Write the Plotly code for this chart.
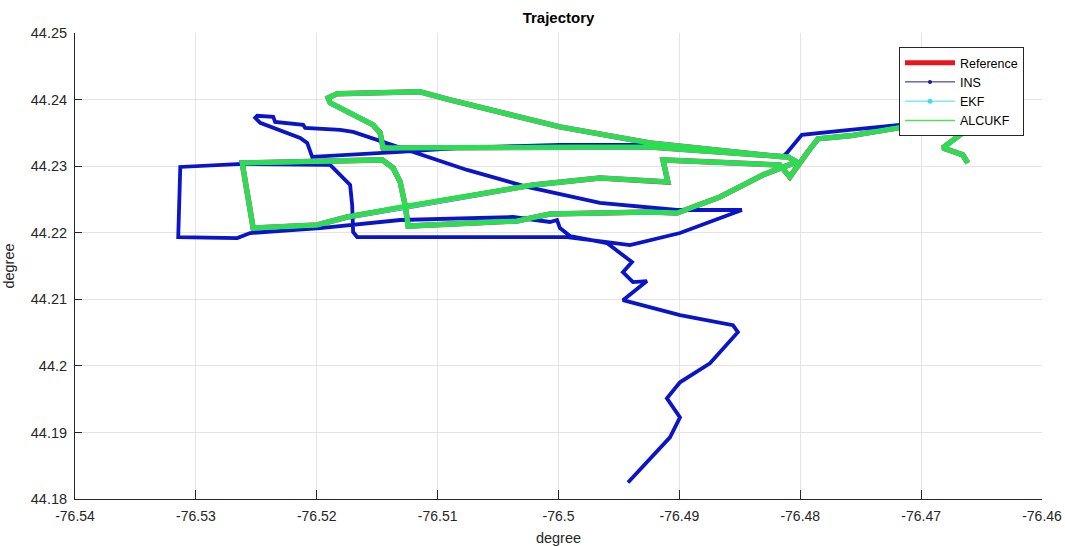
import plotly.graph_objects as go

# ---------------- data (degrees) ----------------
ref_lon = [-76.46614, -76.46656, -76.46821, -76.46623, -76.46664, -76.47185, -76.47590, -76.47854,
           -76.47937, -76.48003, -76.48086, -76.48169, -76.49136, -76.49095, -76.49657, -76.50211,
           -76.51310, -76.51749, -76.51997, -76.52526, -76.52617, -76.51459, -76.51368, -76.51310,
           -76.51269, -76.51244, -76.50343, -76.50070, -76.49243, -76.49020, -76.48665, -76.48309,
           -76.48028, -76.48102, -76.49243, -76.49988, -76.50897, -76.51451, -76.51476, -76.51534,
           -76.51889, -76.51906, -76.51831, -76.51145, -76.50897, -76.49988, -76.49243, -76.48144]
ref_lat = [44.23048, 44.23169, 44.23274, 44.23545, 44.23605, 44.23575, 44.23455, 44.23410,
           44.23214, 44.23048, 44.22838, 44.23018, 44.23094, 44.22763, 44.22823, 44.22717,
           44.22386, 44.22236, 44.22116, 44.22070, 44.23048, 44.23094, 44.22973, 44.22763,
           44.22416, 44.22100, 44.22176, 44.22281, 44.22311, 44.22296, 44.22537, 44.22868,
           44.23064, 44.23139, 44.23289, 44.23289, 44.23289, 44.23274, 44.23500, 44.23620,
           44.23951, 44.24026, 44.24087, 44.24117, 44.23996, 44.23590, 44.23349, 44.23139]

# EKF and ALCUKF estimates coincide with the reference at this scale
ekf_lon = list(ref_lon)
ekf_lat = list(ref_lat)
alcukf_lon = list(ref_lon)
alcukf_lat = list(ref_lat)

ins_lon = [-76.46722, -76.47176, -76.47590, -76.47987, -76.48111, -76.48144, -76.48830, -76.49243,
           -76.49988, -76.50814, -76.51310, -76.52038, -76.52079, -76.52137, -76.52468, -76.52509,
           -76.52493, -76.52360, -76.52344, -76.52112, -76.52096, -76.51806, -76.51699, -76.51310,
           -76.50756, -76.50260, -76.49657, -76.49020, -76.48483, -76.48995, -76.49409, -76.49599,
           -76.49930, -76.51310, -76.51666, -76.51699, -76.51707, -76.51724, -76.51806, -76.51889,
           -76.52617, -76.53129, -76.53146, -76.52658, -76.52551, -76.51972, -76.51310, -76.50376,
           -76.50070, -76.50012, -76.49988, -76.49905, -76.49599, -76.49392, -76.49467, -76.49384,
           -76.49268, -76.49434, -76.49467, -76.48995, -76.48557, -76.48516, -76.48747, -76.48995,
           -76.49103, -76.48995, -76.49078, -76.49425]
ins_lat = [44.23590, 44.23620, 44.23545, 44.23470, 44.23199, 44.23139, 44.23244, 44.23319,
           44.23319, 44.23274, 44.23214, 44.23139, 44.23349, 44.23425, 44.23650, 44.23726,
           44.23756, 44.23741, 44.23665, 44.23620, 44.23575, 44.23545, 44.23515, 44.23274,
           44.22943, 44.22688, 44.22447, 44.22341, 44.22341, 44.21995, 44.21815, 44.21860,
           44.21935, 44.21935, 44.21935, 44.22010, 44.22416, 44.22717, 44.22868, 44.23018,
           44.23033, 44.22988, 44.21935, 44.21920, 44.21995, 44.22070, 44.22191, 44.22236,
           44.22161, 44.22191, 44.22070, 44.21950, 44.21845, 44.21559, 44.21408, 44.21258,
           44.21273, 44.21032, 44.20987, 44.20761, 44.20611, 44.20506, 44.20039, 44.19753,
           44.19512, 44.19226, 44.18926, 44.18248]

x_tick_vals = [-76.54, -76.53, -76.52, -76.51, -76.50, -76.49, -76.48, -76.47, -76.46]
x_tick_text = ["-76.54", "-76.53", "-76.52", "-76.51", "-76.5", "-76.49", "-76.48", "-76.47", "-76.46"]
y_tick_vals = [44.18, 44.19, 44.20, 44.21, 44.22, 44.23, 44.24, 44.25]
y_tick_text = ["44.18", "44.19", "44.2", "44.21", "44.22", "44.23", "44.24", "44.25"]

series_names = ["Reference", "INS", "EKF", "ALCUKF"]

# ---------------- styles ----------------
FONT = "Liberation Sans, Arial, Helvetica, sans-serif"
TXT = "#262626"

fig = go.Figure()

# actual trajectories
fig.add_trace(go.Scatter(x=ref_lon, y=ref_lat, mode="lines", showlegend=False,
                         line=dict(color="#e8141e", width=5.5), hoverinfo="skip"))
fig.add_trace(go.Scatter(x=ins_lon, y=ins_lat, mode="lines", showlegend=False,
                         line=dict(color="#0a14c8", width=3.8), hoverinfo="skip"))
fig.add_trace(go.Scatter(x=ekf_lon, y=ekf_lat, mode="lines", showlegend=False,
                         line=dict(color="#3ad8d8", width=5), hoverinfo="skip"))
fig.add_trace(go.Scatter(x=alcukf_lon, y=alcukf_lat, mode="lines", showlegend=False,
                         line=dict(color="#28e04c", width=4.5), hoverinfo="skip"))

# legend entries
fig.add_trace(go.Scatter(x=[None], y=[None], mode="lines", name=series_names[0],
                         line=dict(color="#e8141e", width=5)))
fig.add_trace(go.Scatter(x=[None], y=[None], mode="lines+markers", name=series_names[1],
                         line=dict(color="#1c1c8e", width=1), marker=dict(size=4, color="#1c1c8e")))
fig.add_trace(go.Scatter(x=[None], y=[None], mode="lines+markers", name=series_names[2],
                         line=dict(color="#44dde0", width=1), marker=dict(size=5, color="#44dde0")))
fig.add_trace(go.Scatter(x=[None], y=[None], mode="lines", name=series_names[3],
                         line=dict(color="#55dd55", width=1.5)))

fig.update_layout(
    width=1065, height=546,
    margin=dict(l=75, r=23, t=33, b=47, pad=0),
    paper_bgcolor="white", plot_bgcolor="white",
    font=dict(family=FONT, size=14, color=TXT),
    title=dict(text="<b>Trajectory</b>", x=0.5, xref="paper", xanchor="center",
               y=1 - 18 / 546, yref="container", yanchor="middle",
               font=dict(family=FONT, size=15, color="#000000")),
    showlegend=True,
    legend=dict(x=(899 - 75) / 967, y=(499 - 47) / 466, xanchor="left", yanchor="top",
                bgcolor="white", bordercolor=TXT, borderwidth=1,
                font=dict(family=FONT, size=12.5, color="#000000"),
                itemwidth=50, tracegroupgap=0),
    xaxis=dict(range=[-76.54, -76.46], tickmode="array", tickvals=x_tick_vals, ticktext=x_tick_text,
               automargin=False,
               showgrid=True, gridcolor="#e4e4e4", gridwidth=1,
               showline=True, linecolor=TXT, linewidth=1, mirror=False,
               ticks="inside", ticklen=9, tickcolor=TXT, zeroline=False,
               ticklabelstandoff=4,
               tickfont=dict(family=FONT, size=14, color=TXT),
               title=dict(text="degree", standoff=10, font=dict(family=FONT, size=14.5, color=TXT))),
    yaxis=dict(range=[44.18, 44.25], tickmode="array", tickvals=y_tick_vals, ticktext=y_tick_text,
               automargin=False,
               showgrid=True, gridcolor="#e4e4e4", gridwidth=1,
               showline=True, linecolor=TXT, linewidth=1, mirror=False,
               ticks="inside", ticklen=7, tickcolor=TXT, zeroline=False,
               ticklabelstandoff=4,
               tickfont=dict(family=FONT, size=14.5, color=TXT),
               title=dict(text="degree", standoff=12, font=dict(family=FONT, size=14.5, color=TXT))),
)

fig.write_html("out.html")
